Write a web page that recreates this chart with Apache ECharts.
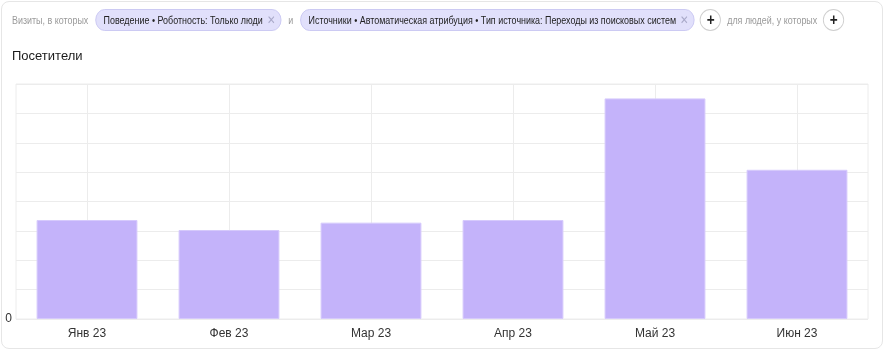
<!DOCTYPE html>
<html>
<head>
<meta charset="utf-8">
<script src="https://cdn.jsdelivr.net/npm/echarts@6/dist/echarts.min.js"></script>
<style>
html,body{margin:0;padding:0;background:#fff;font-family:"Liberation Sans",Arial,sans-serif;}
#card{position:absolute;left:1px;top:1px;width:880px;height:346px;border:1px solid #e6e6e6;border-radius:8px;box-sizing:content-box;background:#fff;}
#filters{position:absolute;left:12px;top:9px;height:22px;display:flex;align-items:center;font-size:10.5px;white-space:nowrap;transform:scaleX(0.85);transform-origin:0 50%;}
.muted{color:#9a9a9a;}
.chip{display:inline-flex;align-items:center;height:20px;padding:0 6px 0 9px;background:#e1e0fb;border:1px solid #c9c7f2;border-radius:11px;color:#222;}
.chip .x{color:#a8a8c8;margin-left:5px;font-size:12px;}
.plus{display:inline-flex;align-items:center;justify-content:center;width:23px;height:20px;border:1px solid #cfcfcf;border-radius:50%;font-size:16px;font-weight:bold;color:#222;line-height:1;}
#chart{position:absolute;left:0;top:0;width:885px;height:351px;}
</style>
</head>
<body>
<div id="card"></div>
<div id="chart"></div>
<div id="filters">
  <span class="muted" style="margin-right:8px">Визиты, в которых</span>
  <span class="chip">Поведение • Роботность: Только люди<span class="x">✕</span></span>
  <span class="muted" style="margin:0 8px">и</span>
  <span class="chip">Источники • Автоматическая атрибуция • Тип источника: Переходы из поисковых систем<span class="x">✕</span></span>
  <span class="plus" style="margin-left:6px">+</span>
  <span class="muted" style="margin:0 7px 0 7px">для людей, у которых</span>
  <span class="plus">+</span>
</div>
<script>
const categories = ['Янв 23','Фев 23','Мар 23','Апр 23','Май 23','Июн 23'];
const visitors = [1685, 1515, 1640, 1685, 3755, 2540];
const yMax = 4000;
const yInterval = 500;

const chart = echarts.init(document.getElementById('chart'));
chart.setOption({
  animation:false,
  title:{text:'Посетители',left:7,top:45,textStyle:{fontSize:13,fontWeight:500,color:'#1a1a1a',fontFamily:'Liberation Sans, Arial, sans-serif'}},
  grid:{left:16,right:17,top:84,bottom:32,show:true,borderColor:'#ececec',borderWidth:1},
  xAxis:{
    type:'category',data:categories,
    axisLine:{show:false},axisTick:{show:false},
    axisLabel:{color:'#333',fontSize:12,margin:9,fontFamily:'Liberation Sans, Arial, sans-serif'},
    splitLine:{show:true,alignWithLabel:true,lineStyle:{color:'#ececec'}}
  },
  yAxis:{
    type:'value',min:0,max:yMax,interval:yInterval,
    axisLine:{show:false},axisTick:{show:false},
    axisLabel:{color:'#333',fontSize:12,margin:4,fontFamily:'Liberation Sans, Arial, sans-serif',formatter:v=>v===0?'0':''},
    splitLine:{lineStyle:{color:'#ececec'}}
  },
  series:[{type:'bar',data:visitors,barWidth:'71%',itemStyle:{color:'#c4b3fa',borderColor:'#d6cafc',borderWidth:1}}]
});
</script>
</body>
</html>
